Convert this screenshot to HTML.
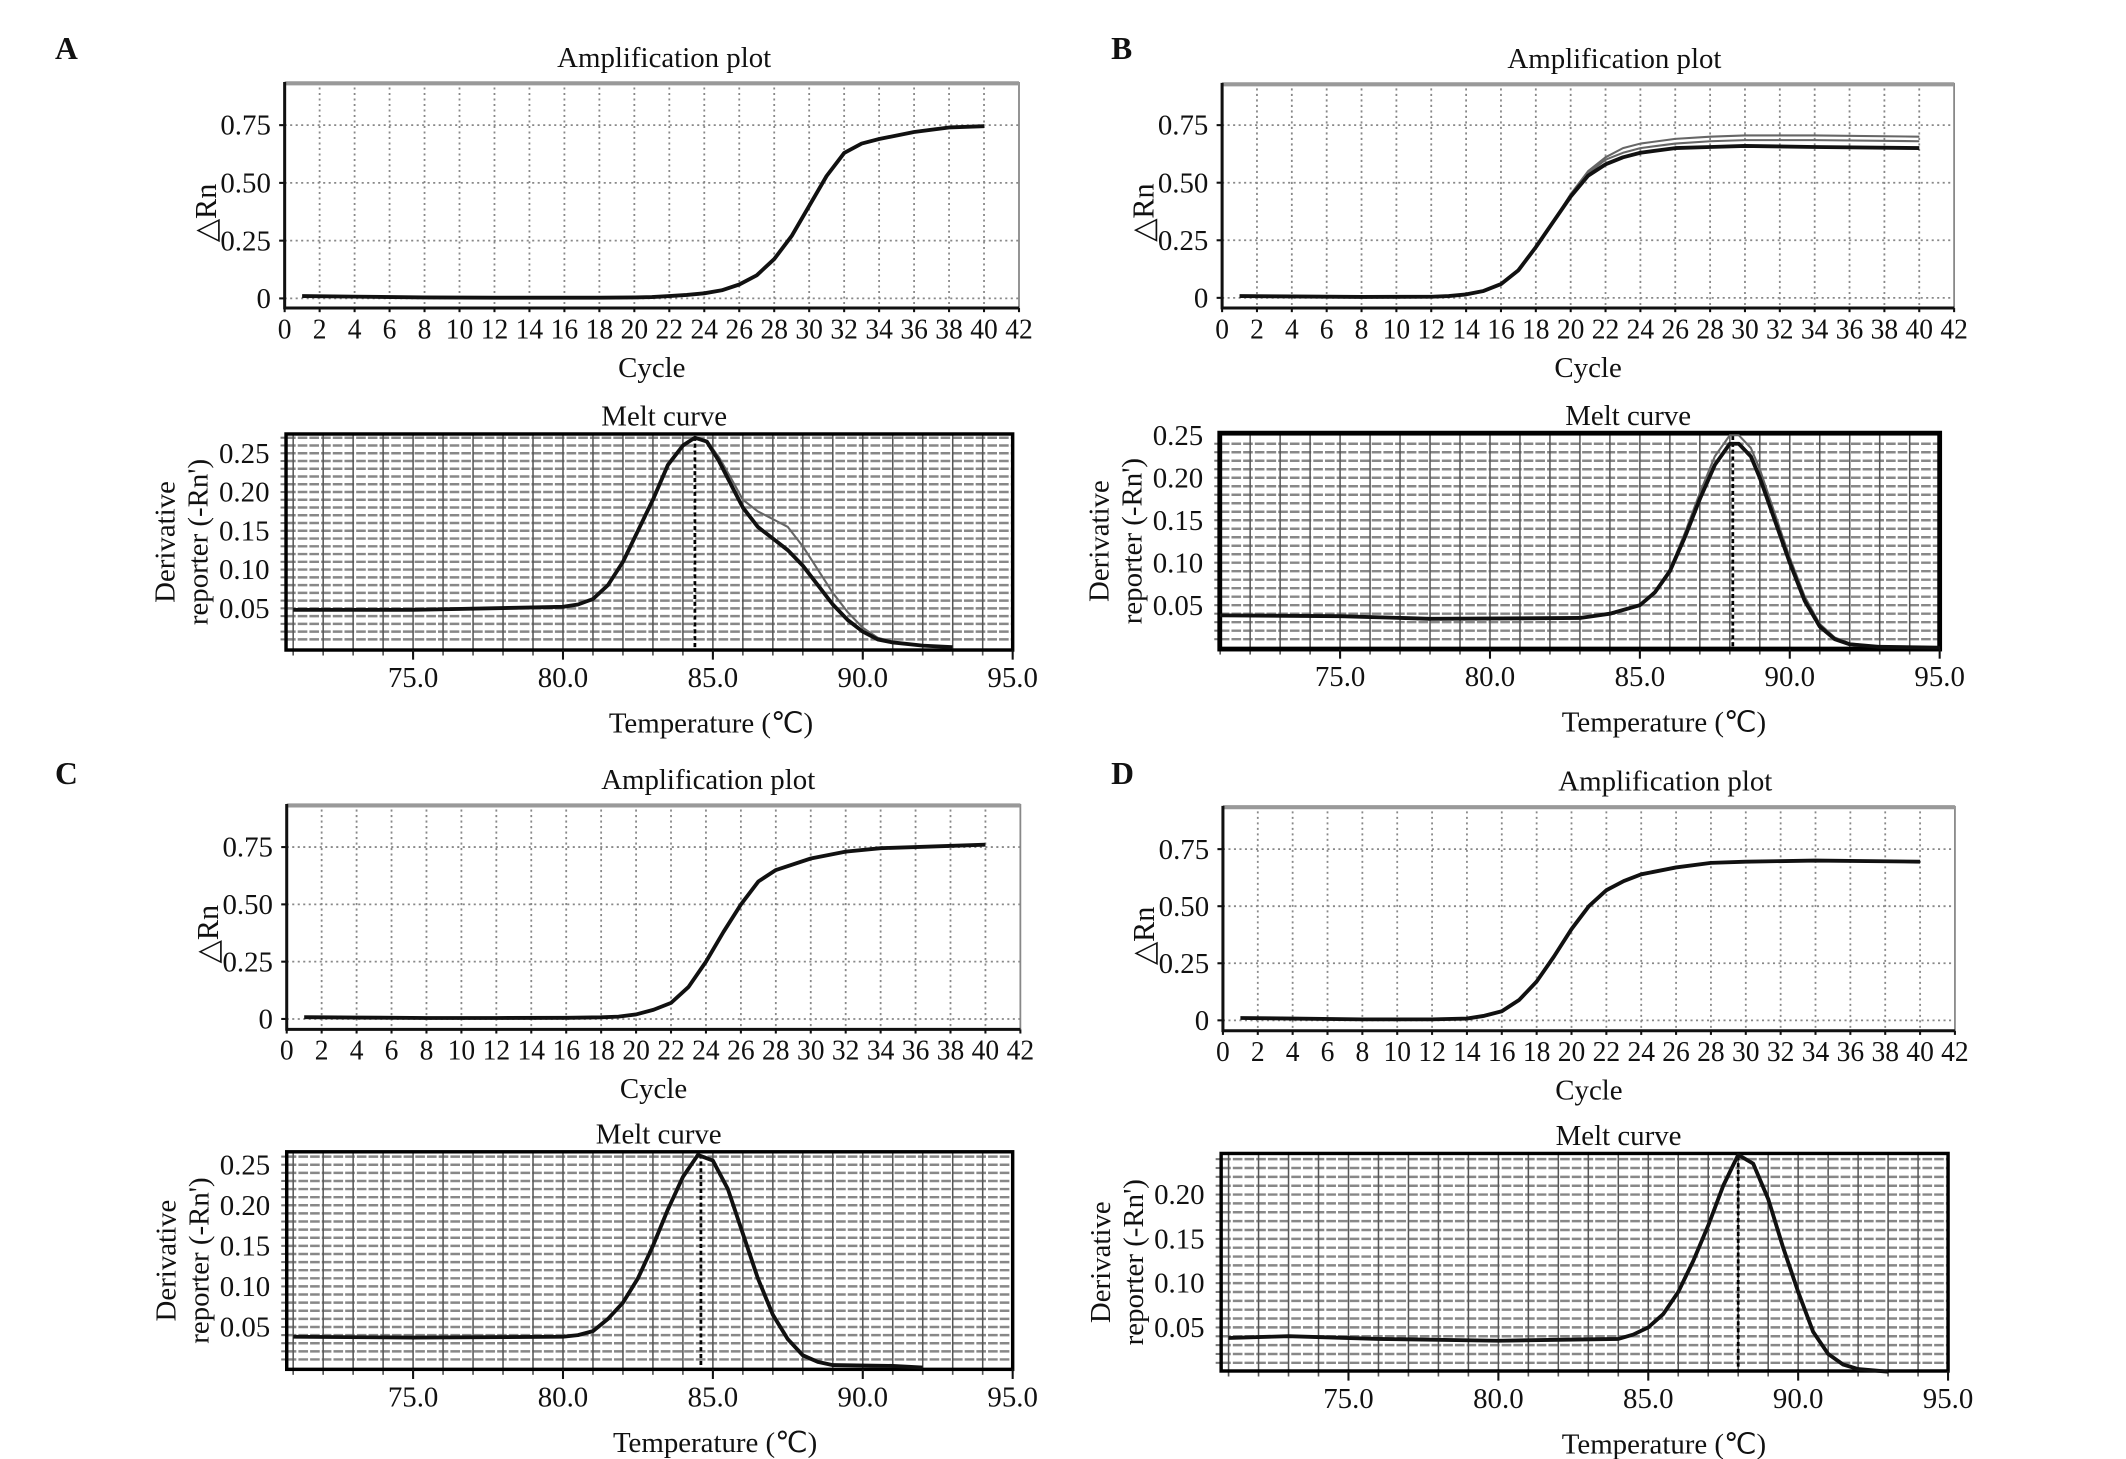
<!DOCTYPE html>
<html><head><meta charset="utf-8"><style>
html,body{margin:0;padding:0;background:#fff}
svg{display:block}
text{font-family:"Liberation Serif",serif;fill:#111}
</style></head><body>
<svg id="fig" width="2126" height="1459" viewBox="0 0 1546 1061" preserveAspectRatio="none" xmlns="http://www.w3.org/2000/svg">
<rect width="1546" height="1061" fill="#fff"/>
<text x="40" y="43" font-size="23" font-weight="bold">A</text>
<text x="808" y="43" font-size="23" font-weight="bold">B</text>
<text x="40" y="570" font-size="23" font-weight="bold">C</text>
<text x="808" y="570" font-size="23" font-weight="bold">D</text>
</svg>
<script>
// Amplification data (cycle, ΔRn)
const ampCycles=[1,4,8,12,16,18,20,21,22,23,24,25,26,27,28,29,30,31,32,33,34,36,38,40];
const ampA=[0.01,0.008,0.004,0.003,0.003,0.003,0.004,0.006,0.01,0.015,0.022,0.035,0.06,0.1,0.17,0.27,0.4,0.53,0.63,0.67,0.69,0.72,0.74,0.745];
const ampB_cycles=[1,4,8,12,13,14,15,16,17,18,19,20,21,22,23,24,26,28,30,34,40];
const ampB1=[0.008,0.006,0.004,0.005,0.008,0.015,0.03,0.06,0.12,0.22,0.33,0.44,0.53,0.58,0.61,0.63,0.65,0.655,0.66,0.655,0.65];
const ampB2=[0.008,0.006,0.004,0.005,0.008,0.015,0.03,0.06,0.12,0.22,0.33,0.45,0.54,0.6,0.63,0.65,0.67,0.68,0.685,0.685,0.68];
const ampB3=[0.008,0.006,0.004,0.005,0.008,0.015,0.03,0.06,0.12,0.22,0.33,0.45,0.55,0.61,0.65,0.67,0.69,0.70,0.705,0.705,0.70];
const ampC_cycles=[1,4,8,12,16,18,19,20,21,22,23,24,25,26,27,28,30,32,34,36,40];
const ampC=[0.008,0.006,0.004,0.004,0.005,0.007,0.01,0.02,0.04,0.07,0.14,0.25,0.38,0.5,0.6,0.65,0.7,0.73,0.745,0.75,0.76];
const ampD_cycles=[1,4,8,12,14,15,16,17,18,19,20,21,22,23,24,26,28,30,34,40];
const ampD=[0.01,0.008,0.004,0.004,0.008,0.02,0.04,0.09,0.17,0.28,0.4,0.5,0.57,0.61,0.64,0.67,0.69,0.695,0.7,0.695];
// Melt data (temperature, derivative)
const meltA_t=[71,75,80,80.5,81,81.5,82,82.5,83,83.5,84,84.4,84.8,85.2,85.6,86,86.5,87,87.5,88,88.5,89,89.5,90,90.5,91,92,93];
const meltA1=[0.048,0.048,0.052,0.055,0.062,0.08,0.11,0.15,0.19,0.235,0.26,0.27,0.265,0.24,0.21,0.18,0.155,0.14,0.125,0.105,0.08,0.055,0.035,0.02,0.01,0.006,0.002,0];
const meltA2=[0.048,0.048,0.052,0.055,0.062,0.08,0.11,0.15,0.19,0.235,0.26,0.27,0.266,0.245,0.218,0.19,0.175,0.165,0.155,0.13,0.1,0.07,0.045,0.025,0.012,0.007,0.002,0];
const meltB_t=[71,75,78,83,84,85,85.5,86,86.5,87,87.5,88,88.3,88.7,89,89.5,90,90.5,91,91.5,92,93,95];
const meltB1=[0.038,0.037,0.034,0.035,0.04,0.05,0.065,0.09,0.13,0.175,0.215,0.24,0.24,0.225,0.2,0.15,0.1,0.055,0.025,0.01,0.004,0.001,0];
const meltB2=[0.038,0.037,0.034,0.035,0.04,0.05,0.066,0.092,0.135,0.182,0.225,0.25,0.25,0.235,0.21,0.158,0.106,0.06,0.028,0.012,0.005,0.001,0];
const meltC_t=[71,75,80,80.5,81,81.5,82,82.5,83,83.5,84,84.5,85,85.5,86,86.5,87,87.5,88,88.5,89,91,92];
const meltC=[0.038,0.037,0.038,0.04,0.045,0.06,0.08,0.11,0.15,0.195,0.235,0.262,0.255,0.22,0.165,0.11,0.065,0.035,0.015,0.007,0.003,0.002,0];
const meltD_t=[71,73,76,80,84,84.5,85,85.5,86,86.5,87,87.5,88,88.5,89,89.5,90,90.5,91,91.5,92,93];
const meltD=[0.038,0.04,0.037,0.035,0.037,0.042,0.05,0.065,0.09,0.125,0.165,0.21,0.245,0.235,0.195,0.14,0.09,0.045,0.02,0.008,0.003,0];
const ampXTicks=[0,2,4,6,8,10,12,14,16,18,20,22,24,26,28,30,32,34,36,38,40,42];
const ampYTicks=[0,0.25,0.5,0.75];
const ampYLabels=["0","0.25","0.50","0.75"];
const meltXTicks=[75,80,85,90,95];
const meltYTicks=[0.05,0.1,0.15,0.2,0.25];

const NS="http://www.w3.org/2000/svg";
const svg=document.getElementById('fig');
function mk(tag,attrs,parent){const e=document.createElementNS(NS,tag);for(const k in attrs)e.setAttribute(k,attrs[k]);(parent||svg).appendChild(e);return e;}
function txt(s,attrs,parent){const e=mk('text',attrs,parent);e.textContent=s;return e;}
function pathFrom(xs,ys,sx,sy){return xs.map((x,i)=>(i?'L':'M')+sx(x).toFixed(1)+','+sy(ys[i]).toFixed(1)).join('');}

function amp(p){
  const g=mk('g',{});
  
  
  const sx=c=>p.l+(c/42)*(p.r-p.l);
  const sy=v=>p.z-(v/0.75)*(p.z-p.y75);
  const t=txt('Amplification plot',{x:p.tx,y:p.top-11,'font-size':21,'text-anchor':'middle'},g);
  
  
  const bottom=p.ax;
  for(let c=2;c<42;c+=2){mk('line',{x1:sx(c),x2:sx(c),y1:p.top,y2:bottom,stroke:'#888','stroke-dasharray':'1.5,2.5','stroke-width':1.3},g);}
  ampYTicks.forEach((v,i)=>{
    mk('line',{x1:p.l,x2:p.r,y1:sy(v),y2:sy(v),stroke:'#888','stroke-dasharray':'1.5,2.5','stroke-width':1.3},g);
    mk('line',{x1:p.l-4,x2:p.l,y1:sy(v),y2:sy(v),stroke:'#111','stroke-width':1.5},g);
    const yl=txt(ampYLabels[i],{x:p.l-10,y:sy(v)+7,'font-size':21,'text-anchor':'end'},g);
    
    
  });
  mk('line',{x1:p.r,x2:p.r,y1:p.top,y2:bottom,stroke:'#888','stroke-width':1.3},g);
  mk('line',{x1:p.l,x2:p.r,y1:p.top+1,y2:p.top+1,stroke:'#999','stroke-width':3},g);
  mk('line',{x1:p.l,x2:p.l,y1:p.top,y2:bottom+1,stroke:'#111','stroke-width':2.2},g);
  mk('line',{x1:p.l,x2:p.r,y1:bottom,y2:bottom,stroke:'#111','stroke-width':2.2},g);
  ampXTicks.forEach(c=>{
    mk('line',{x1:sx(c),x2:sx(c),y1:bottom,y2:bottom+3,stroke:'#111','stroke-width':1.5},g);
    const xl=txt(String(c),{x:sx(c),y:bottom+22,'font-size':21,'text-anchor':'middle','textLength':c>=10?20:10,'lengthAdjust':'spacingAndGlyphs'},g);
    
    
  });
  const xt=txt('Cycle',{x:(p.l+p.r)/2,y:bottom+50,'font-size':21,'text-anchor':'middle'},g);
  
  
  const yt=txt('△Rn',{x:0,y:0,'font-size':22,'text-anchor':'middle',transform:`translate(${p.l-50},${sy(0.37)}) rotate(-90)`},g);
  
  
  p.series.forEach((s,i)=>{
    const last=i===p.series.length-1;
    const pa=mk('path',{d:pathFrom(s[0],s[1],sx,sy),fill:'none',stroke:last?'#111':'#666','stroke-width':last?2.8:1.5,'stroke-linejoin':'round'},g);
    
    
  });
}
function melt(p){
  const g=mk('g',{});
  
  
  const kx=21.8;
  const sx=t=>p.x75+(t-75)*kx;
  const r=sx(95);
  const sy=v=>p.y0-v*p.ky;
  const t=txt('Melt curve',{x:p.tx,y:p.top-6,'font-size':21,'text-anchor':'middle'},g);
  
  
  for(let v=0.01;sy(v)>p.top+2;v+=0.01){mk('line',{x1:p.l,x2:r,y1:sy(v),y2:sy(v),stroke:'#888','stroke-width':1.8,'stroke-dasharray':'7,1.5'},g);
    mk('line',{x1:p.l-4,x2:p.l-1,y1:sy(v),y2:sy(v),stroke:'#777','stroke-width':1.5},g);}
  for(let tt=71;sx(tt)<r;tt++){ if(sx(tt)>p.l) mk('line',{x1:sx(tt),x2:sx(tt),y1:p.top,y2:p.b,stroke:'#555','stroke-width':1.1},g);
    mk('line',{x1:sx(tt),x2:sx(tt),y1:p.b,y2:p.b+4,stroke:'#555','stroke-width':1.2},g);}
  mk('rect',{x:p.l,y:p.top,width:r-p.l,height:p.b-p.top,fill:'none',stroke:'#000','stroke-width':p.bw},g);
  meltXTicks.forEach(v=>{
    mk('line',{x1:sx(v),x2:sx(v),y1:p.b,y2:p.b+7,stroke:'#111','stroke-width':1.5},g);
    const xl=txt(v.toFixed(1),{x:sx(v),y:p.b+27,'font-size':21,'text-anchor':'middle'},g);
    
    
  });
  meltYTicks.forEach(v=>{ if(sy(v)<p.top-2) return;
    const yl=txt(v.toFixed(2),{x:p.l-12,y:sy(v)+7,'font-size':21,'text-anchor':'end'},g);
    
    
  });
  const xt=txt('Temperature (℃)',{x:p.ttx,y:p.b+60,'font-size':21,'text-anchor':'middle'},g);
  
  
  const cy=(p.top+p.b)/2;
  const y1=txt('Derivative',{x:0,y:0,'font-size':21,'text-anchor':'middle',transform:`translate(${p.l-81},${cy}) rotate(-90)`},g);
  
  
  const y2=txt("reporter (-Rn')",{x:0,y:0,'font-size':21,'text-anchor':'middle',transform:`translate(${p.l-57},${cy}) rotate(-90)`},g);
  
  
  const pk=mk('line',{x1:sx(p.peak),x2:sx(p.peak),y1:p.top+2,y2:p.b,stroke:'#000','stroke-width':2,'stroke-dasharray':'3,2'},g);
  
  
  p.series.forEach((s,i)=>{
    const ys=s[1].map(v=>Math.min(v,(p.y0-p.top-1)/p.ky));
    const last=i===p.series.length-1;
    const pa=mk('path',{d:pathFrom(s[0],ys,sx,sy),fill:'none',stroke:last?'#111':'#666','stroke-width':last?2.8:1.5,'stroke-linejoin':'round'},g);
    
    
  });
}
amp({id:'a',l:207,r:741,top:59.6,z:217,y75:91,ax:224,tx:483,series:[[ampCycles,ampA]]});
amp({id:'b',l:888.7,r:1421,top:60.3,z:216.6,y75:91,ax:224,tx:1174,series:[[ampB_cycles,ampB3],[ampB_cycles,ampB2],[ampB_cycles,ampB1]]});
amp({id:'c',l:208.5,r:742,top:584.7,z:741,y75:616,ax:748.6,tx:515,series:[[ampC_cycles,ampC]]});
amp({id:'d',l:889.3,r:1421.6,top:586,z:742,y75:617.5,ax:749.6,tx:1211,series:[[ampD_cycles,ampD]]});
melt({id:'a',l:208,top:315.6,b:472.7,x75:300.4,y0:470.6,ky:564,tx:483,ttx:517,peak:84.4,bw:2.5,series:[[meltA_t,meltA2],[meltA_t,meltA1]]});
melt({id:'b',l:887,top:315,b:472,x75:974.5,y0:471,ky:618,tx:1184,ttx:1210,peak:88.1,bw:3.5,series:[[meltB_t,meltB2],[meltB_t,meltB1]]});
melt({id:'c',l:208.5,top:837.6,b:995.8,x75:300.4,y0:994.5,ky:590,tx:479,ttx:520,peak:84.6,bw:2.5,series:[[meltC_t,meltC]]});
melt({id:'d',l:888,top:838.8,b:997,x75:980.6,y0:997.5,ky:644,tx:1177,ttx:1210,peak:88.0,bw:2.5,series:[[meltD_t,meltD]]});
</script>
</body></html>
